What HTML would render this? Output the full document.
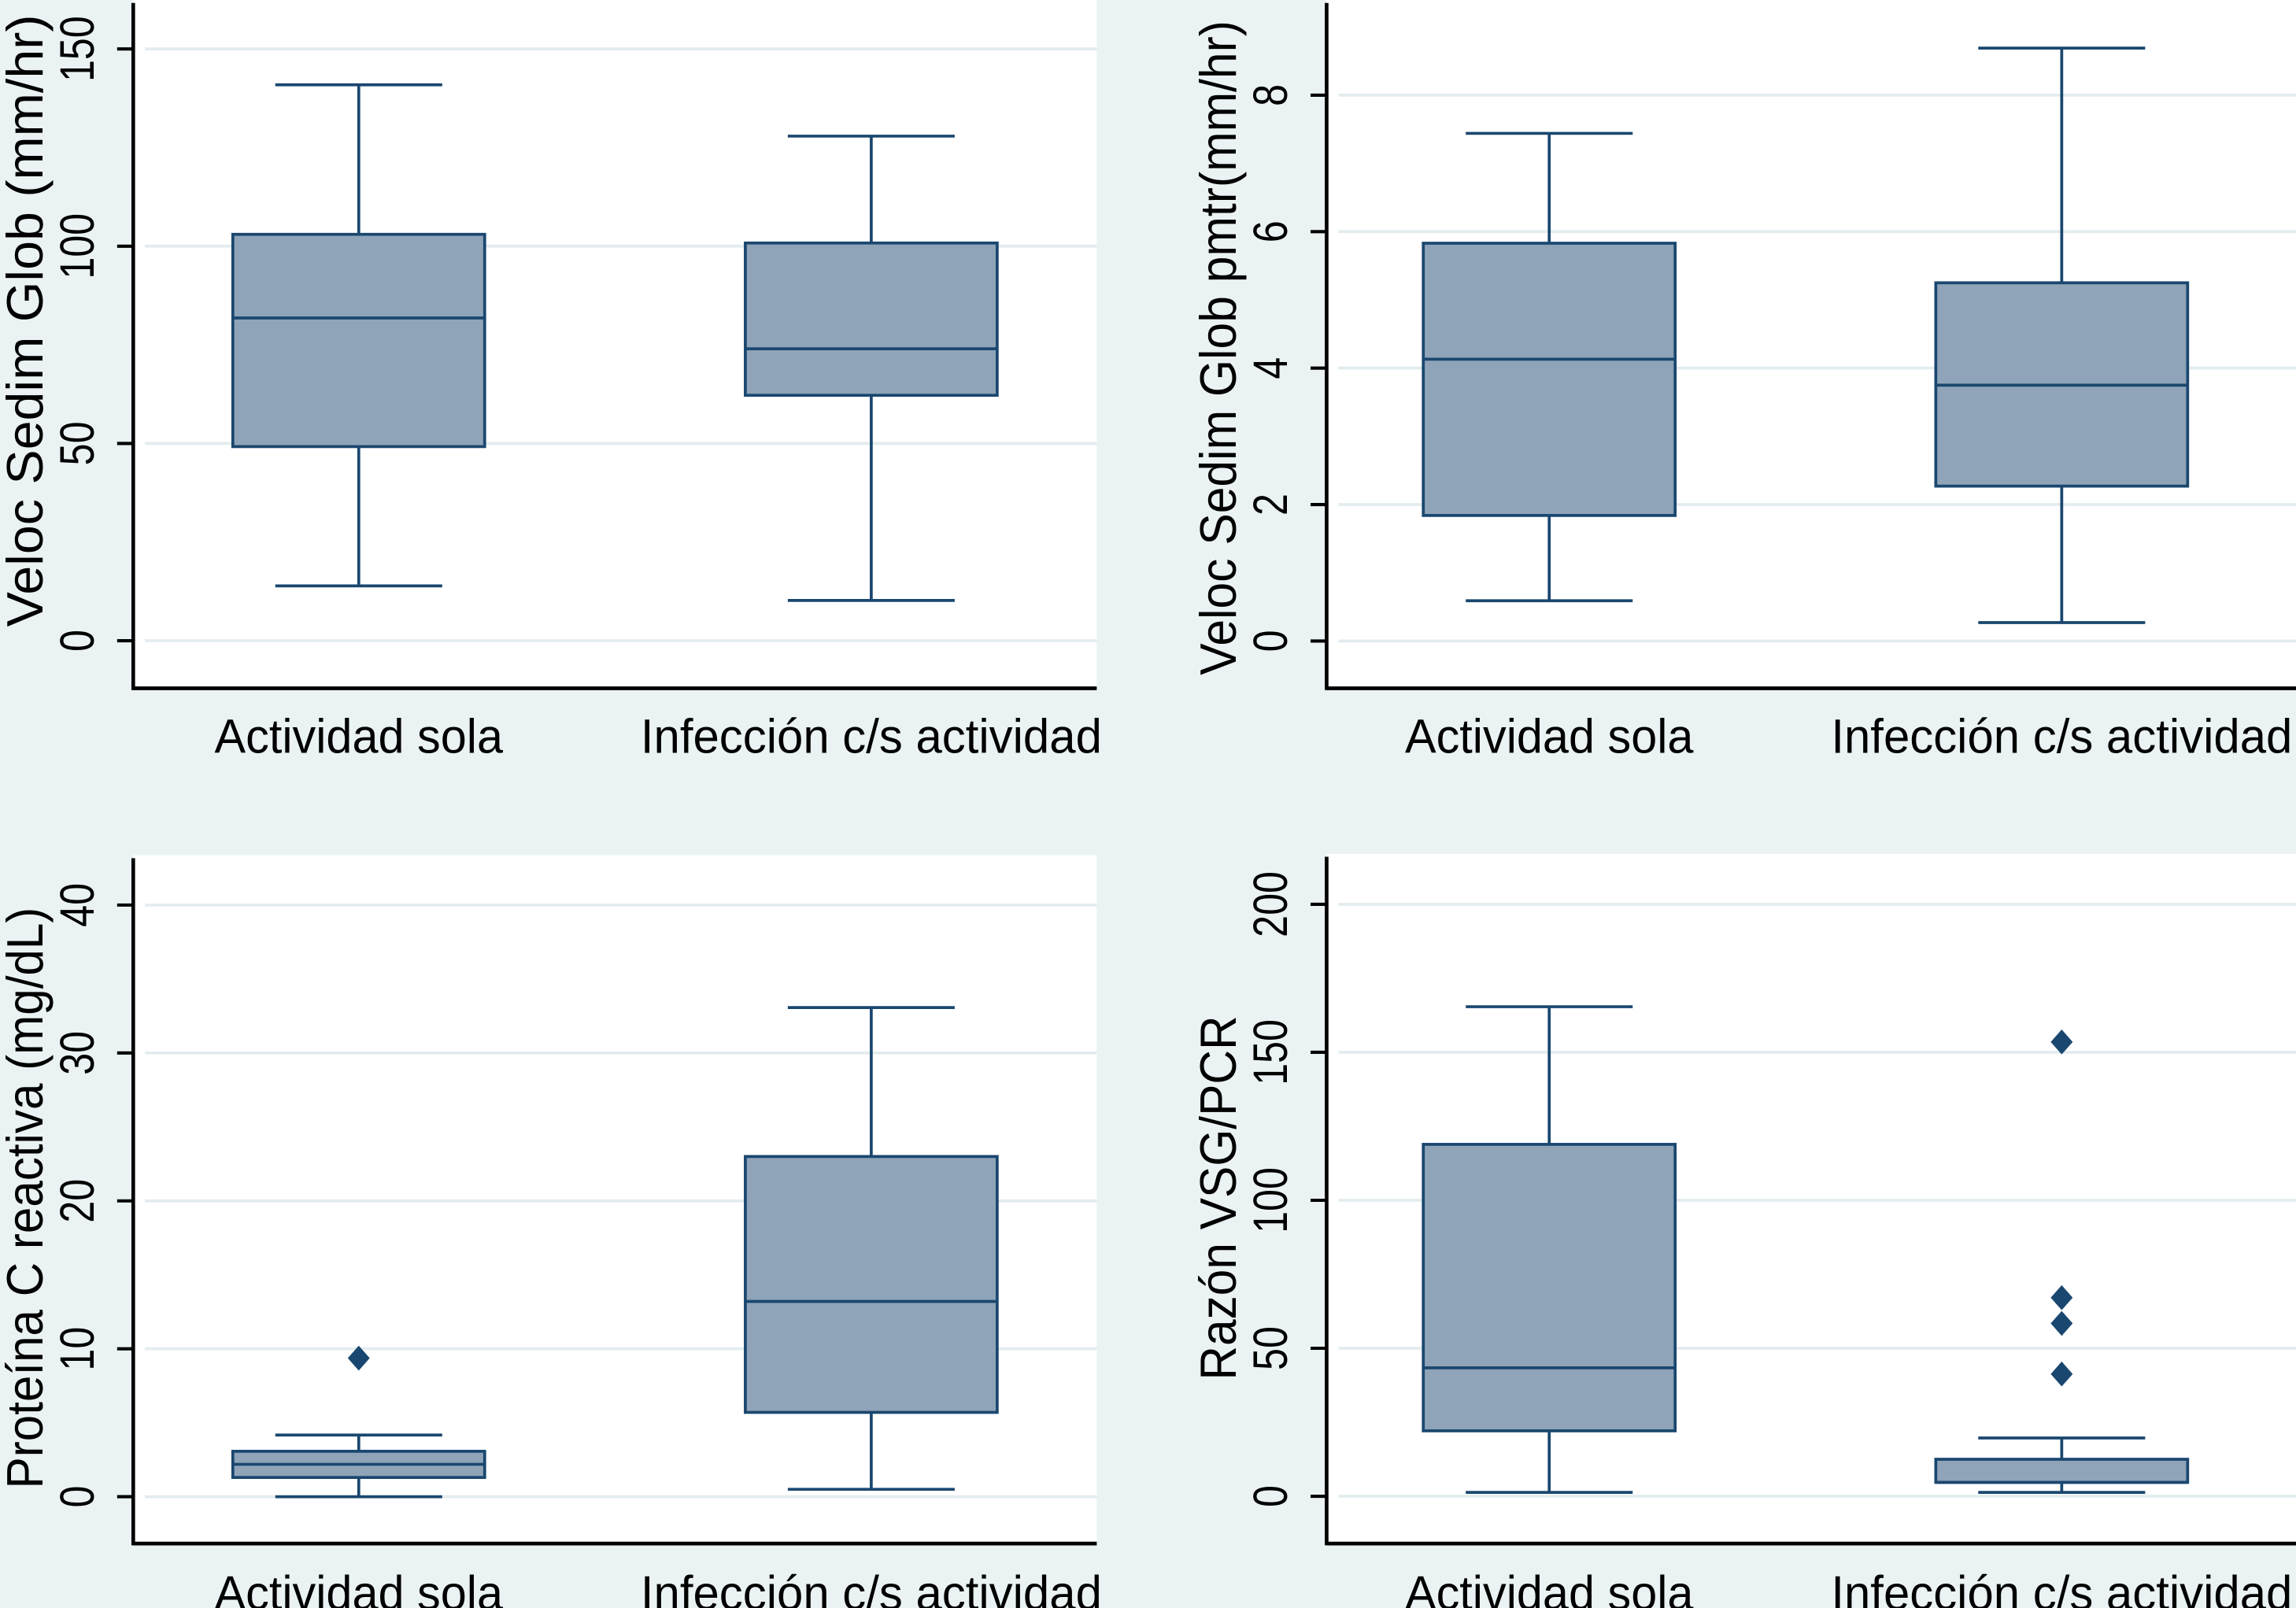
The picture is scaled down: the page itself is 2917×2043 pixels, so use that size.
<!DOCTYPE html>
<html><head><meta charset="utf-8"><style>
html,body{margin:0;padding:0;background:#eaf2f3;}
svg{display:block;}
text{font-family:"Liberation Sans",Arial,sans-serif;fill:#000;}
</style></head><body>
<svg id="fig" width="2917" height="2043" viewBox="0 0 1568 1098" preserveAspectRatio="none" xmlns="http://www.w3.org/2000/svg">
<rect x="0" y="0" width="1568" height="1098" fill="#eaf2f3"/>
</svg>
<script>
// categories
const categories = ["Actividad sola", "Infección c/s actividad"];
// panel titles
const yTitles = ["Veloc Sedim Glob (mm/hr)", "Veloc Sedim Glob pmtr(mm/hr)", "Proteína C reactiva (mg/dL)", "Razón VSG/PCR"];
// tick values per panel
const ticksVSG = [0, 50, 100, 150];
const ticksVSGp = [0, 2, 4, 6, 8];
const ticksPCR = [0, 10, 20, 30, 40];
const ticksRazon = [0, 50, 100, 150, 200];
// box stats [lowWhisker, q1, median, q3, highWhisker] per category
const vsgStats = [[13.9, 49.2, 81.8, 103, 140.9], [10.2, 62.2, 74, 100.8, 127.9]];
const vsgpStats = [[0.59, 1.84, 4.13, 5.83, 7.44], [0.27, 2.27, 3.75, 5.25, 8.69]];
const pcrStats = [[0, 1.3, 2.19, 3.07, 4.17], [0.5, 5.7, 13.2, 23, 33.07]];
const razonStats = [[1.3, 22.1, 43.4, 118.9, 165.4], [1.3, 4.7, 4.7, 12.5, 19.7]];
// outliers per category
const vsgOut = [[], []];
const vsgpOut = [[], []];
const pcrOut = [[9.37], []];
const razonOut = [[], [153.5, 67.1, 58.4, 41.3]];

const NS = "http://www.w3.org/2000/svg";
const svg = document.getElementById("fig");
function mk(tag, attrs, parent) {
  const e = document.createElementNS(NS, tag);
  for (const k in attrs) e.setAttribute(k, attrs[k]);
  (parent || svg).appendChild(e);
  return e;
}
const panels = [
  {x0:91, x1:749, top:0, bottom:470, y0v:0, y0px:437.5, pxPerUnit:2.694, ticks:ticksVSG, stats:vsgStats, out:vsgOut, title:yTitles[0], titleLen:418, titleC:219, lblBase:514, cx:[245,595], hw:86, cap:57},
  {x0:906, x1:1568, top:0, bottom:470, y0v:0, y0px:437.7, pxPerUnit:46.59, ticks:ticksVSGp, stats:vsgpStats, out:vsgpOut, title:yTitles[1], titleLen:447, titleC:237.5, lblBase:514, cx:[1058,1408], hw:86, cap:57},
  {x0:91, x1:749, top:584, bottom:1054, y0v:0, y0px:1022, pxPerUnit:10.1, ticks:ticksPCR, stats:pcrStats, out:pcrOut, title:yTitles[2], titleLen:397, titleC:818, lblBase:1099, cx:[245,595], hw:86, cap:57},
  {x0:906, x1:1568, top:583, bottom:1054, y0v:0, y0px:1021.7, pxPerUnit:2.021, ticks:ticksRazon, stats:razonStats, out:razonOut, title:yTitles[3], titleLen:249, titleC:818, lblBase:1099, cx:[1058,1408], hw:86, cap:57}
];
const navy = "#1a476f", fill = "#8fa4b8";
panels.forEach((p, pi) => {
  const g = mk("g", {});
  
  
  const Y = v => p.y0px - (v - p.y0v) * p.pxPerUnit;
  const bg = mk("rect", {x:p.x0, y:p.top, width:p.x1 - p.x0, height:p.bottom - p.top, fill:"#ffffff"}, g);
  
  
  p.ticks.forEach(t => {
    const y = Y(t);
    const gl = mk("line", {x1:p.x0 + 8, x2:p.x1, y1:y, y2:y, stroke:"#e3ecef", "stroke-width":2}, g);
    
    
    const tk = mk("line", {x1:p.x0 - 11, x2:p.x0, y1:y, y2:y, stroke:"#000", "stroke-width":2.2}, g);
    
    
    const s = String(t);
    const tx = mk("text", {x:0, y:0, "font-size":33, "text-anchor":"middle", transform:"translate(" + (p.x0 - 27) + "," + y + ") rotate(-90)", textLength:s.length * 15, lengthAdjust:"spacingAndGlyphs"}, g);
    tx.textContent = s;
    
    
  });
  const ttl = mk("text", {x:0, y:0, "font-size":35, "text-anchor":"middle", transform:"translate(" + (p.x0 - 62) + "," + p.titleC + ") rotate(-90)", textLength:p.titleLen, lengthAdjust:"spacingAndGlyphs"}, g);
  ttl.textContent = p.title;
  
  
  p.stats.forEach((st, ci) => {
    const cx = p.cx[ci];
    const bx = mk("g", {}, g);
    
    
    mk("line", {x1:cx, x2:cx, y1:Y(st[4]), y2:Y(st[3]), stroke:navy, "stroke-width":2}, bx);
    mk("line", {x1:cx, x2:cx, y1:Y(st[1]), y2:Y(st[0]), stroke:navy, "stroke-width":2}, bx);
    mk("line", {x1:cx - p.cap, x2:cx + p.cap, y1:Y(st[4]), y2:Y(st[4]), stroke:navy, "stroke-width":2}, bx);
    mk("line", {x1:cx - p.cap, x2:cx + p.cap, y1:Y(st[0]), y2:Y(st[0]), stroke:navy, "stroke-width":2}, bx);
    mk("rect", {x:cx - p.hw, y:Y(st[3]), width:2 * p.hw, height:Y(st[1]) - Y(st[3]), fill:fill, stroke:navy, "stroke-width":2}, bx);
    mk("line", {x1:cx - p.hw, x2:cx + p.hw, y1:Y(st[2]), y2:Y(st[2]), stroke:navy, "stroke-width":2}, bx);
    p.out[ci].forEach(v => {
      const y = Y(v);
      const d = mk("polygon", {points:(cx - 7.5) + "," + y + " " + cx + "," + (y - 8.5) + " " + (cx + 7.5) + "," + y + " " + cx + "," + (y + 8.5), fill:navy}, g);
      
      
    });
    const lbl = mk("text", {x:cx, y:p.lblBase, "font-size":33, "text-anchor":"middle", textLength:(ci === 0 ? 197 : 315), lengthAdjust:"spacingAndGlyphs"}, g);
    lbl.textContent = categories[ci];
    
    
  });
  const ya = mk("line", {x1:p.x0, x2:p.x0, y1:p.top + 2, y2:p.bottom + 1.2, stroke:"#000", "stroke-width":2.5}, g);
  
  
  const xa = mk("line", {x1:p.x0, x2:p.x1, y1:p.bottom, y2:p.bottom, stroke:"#000", "stroke-width":2.5}, g);
  
  
});
</script>
</body></html>
